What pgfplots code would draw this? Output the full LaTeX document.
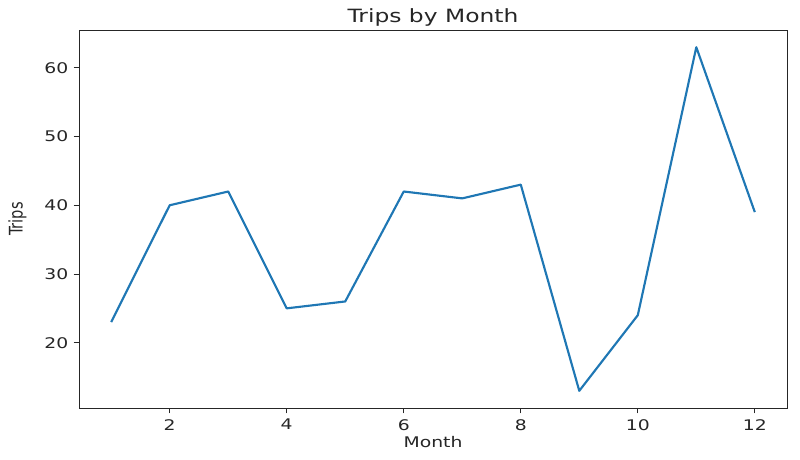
\documentclass[border=0pt]{standalone}
\usepackage{pgfplots}
\pgfplotsset{compat=1.18}
\usepackage{fontspec}
\setmainfont[FakeStretch=1.28]{DejaVu Sans}
\newfontfamily\plainfont{DejaVu Sans}
\definecolor{mplblue}{HTML}{1F77B4}
\definecolor{axgray}{HTML}{262626}
\begin{document}
\begin{tikzpicture}
\path[use as bounding box] (-59.25pt,-39pt) rectangle (540.75pt,306pt);
\begin{axis}[
  at={(0pt,0pt)}, anchor=south west,
  scale only axis,
  width=531pt, height=283.5pt,
  xmin=0.45, xmax=12.55,
  ymin=10.5, ymax=65.5,
  xtick={2,4,6,8,10,12},
  ytick={20,30,40,50,60},
  tick align=outside,
  major tick length=4pt,
  tick style={axgray, line width=0.6pt},
  axis line style={axgray, line width=0.6pt},
  xtick pos=bottom, ytick pos=left,
  /pgf/number format/assume math mode=true,
  tick label style={font=\fontsize{11}{13}\selectfont, text=axgray},
  xticklabel style={inner sep=0pt, anchor=north, yshift=-4.25pt},
  yticklabel style={inner sep=0pt, anchor=east, xshift=-3.8pt},
  xlabel={Month},
  xlabel style={font=\fontsize{11}{13}\selectfont, text=axgray, at={(axis description cs:0.5,0)}, anchor=base, yshift=-30pt, inner sep=0pt},
  ylabel={\plainfont\scalebox{1}[1.28]{Trips}},
  ylabel style={font=\fontsize{11}{13}\selectfont, text=axgray, at={(axis description cs:-0.0797,0.5)}, anchor=base, inner sep=0pt},
  title={Trips by Month},
  title style={font=\fontsize{13.7}{16}\selectfont, text=axgray, at={(axis description cs:0.5,1)}, anchor=base, yshift=0pt, inner sep=0pt},
]
\addplot[mplblue, line width=1.6pt, line join=round] coordinates {
  (1,23) (2,40) (3,42) (4,25) (5,26) (6,42) (7,41) (8,43) (9,13) (10,24) (11,63) (12,39)
};
\end{axis}
\end{tikzpicture}
\end{document}
